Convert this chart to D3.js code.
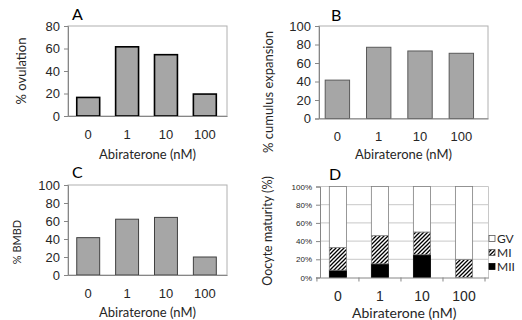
<!DOCTYPE html>
<html>
<head>
<meta charset="utf-8">
<script src="https://cdn.jsdelivr.net/npm/d3@7"></script>
<style>
  html, body { margin: 0; padding: 0; background: #fff; }
  svg { display: block; font-family: Lato, 'Open Sans', sans-serif; }
</style>
</head>
<body>
<div id="chart"></div>
<script>
// ---- data ----
const categories = ['0', '1', '10', '100'];
const ovulation = [16.5, 61.5, 54.5, 19.5];
const cumulus = [41.5, 77, 73, 70.5];
const bmbd = [41.5, 62, 64, 20];
const stages = ['MII', 'MI', 'GV'];
const mii = [8, 15, 25, 0];
const mi = [25, 31, 25, 20];
const gv = [67, 54, 50, 80];
const ticksA = [0, 20, 40, 60, 80];
const ticksBC = [0, 20, 40, 60, 80, 100];
const ticksD = [0, 0.2, 0.4, 0.6, 0.8, 1];
const legendOrder = ['GV', 'MI', 'MII'];

const W = 522, H = 320;
const svg = d3.select('#chart').append('svg').attr('width', W).attr('height', H);

// hatch for MI
svg.append('defs').append('pattern')
  .attr('id', 'hatch').attr('patternUnits', 'userSpaceOnUse')
  .attr('width', 4).attr('height', 4)
  .call(p => {
    p.append('rect').attr('width', 4).attr('height', 4).attr('fill', '#fff');
    p.append('path').attr('d', 'M-1,1 l2,-2 M0,4 l4,-4 M3,5 l2,-2')
      .attr('stroke', '#000').attr('stroke-width', 1.3);
  });

const AXIS = '#868686', BORDER = '#b0b0b0', TEXT = '#262626';

function frame(g, x0, x1, y0, y1) {
  g.append('rect').attr('x', x0).attr('y', y0).attr('width', x1 - x0).attr('height', y1 - y0)
    .attr('fill', 'none').attr('stroke', BORDER).attr('stroke-width', 1);
}

function yAxis(g, y, x0, ticks, fmt, size) {
  const ax = g.append('g').attr('transform', `translate(${x0},0)`)
    .call(d3.axisLeft(y).tickValues(ticks).tickSize(4).tickPadding(4).tickFormat(fmt));
  ax.select('.domain').attr('stroke', AXIS);
  ax.selectAll('.tick line').attr('stroke', AXIS);
  ax.selectAll('.tick text').attr('fill', TEXT).attr('font-size', size);
  return ax;
}

function labels(g, o) {
  g.append('text').attr('x', o.titleX).attr('y', o.titleY).attr('font-size', 16)
    .attr('fill', '#000').text(o.title);
  g.append('text').attr('transform', `translate(${o.yLabelX},${o.yLabelY}) rotate(-90)`)
    .attr('text-anchor', 'middle').attr('font-size', o.yLabelSize).attr('fill', TEXT)
    .text(o.yLabel);
  g.append('text').attr('x', (o.left + o.right) / 2).attr('y', o.xLabelY)
    .attr('text-anchor', 'middle').attr('font-size', o.xLabelSize).attr('fill', TEXT)
    .text('Abiraterone (nM)');
}

function barPanel(o) {
  const g = svg.append('g');
  const x = d3.scaleBand().domain(categories).range([o.left, o.right])
    .paddingInner(0.41).paddingOuter(0.25).align(o.align);
  const y = d3.scaleLinear().domain([0, o.max]).range([o.bottom, o.top]);
  frame(g, o.left, o.right, o.top, o.bottom);
  g.selectAll('rect.bar').data(o.values).join('rect').attr('class', 'bar')
    .attr('x', (d, i) => x(categories[i])).attr('width', x.bandwidth())
    .attr('y', d => y(d)).attr('height', d => o.bottom - y(d))
    .attr('fill', '#a6a6a6').attr('stroke', o.stroke).attr('stroke-width', o.strokeWidth);
  yAxis(g, y, o.left, o.ticks, d3.format('d'), 13);
  const xa = g.append('g').attr('transform', `translate(0,${o.bottom})`)
    .call(d3.axisBottom(x).tickSize(0).tickPadding(o.xPad));
  xa.select('.domain').attr('stroke', AXIS);
  xa.selectAll('.tick text').attr('fill', TEXT).attr('font-size', 13);
  labels(g, o);
}

barPanel({ values: ovulation, max: 80, ticks: ticksA, left: 68, right: 227, top: 26, bottom: 116,
  align: 0.45, stroke: '#000', strokeWidth: 1.6, xPad: 14,
  title: 'A', titleX: 72, titleY: 20, yLabel: '% ovulation', yLabelX: 26, yLabelY: 71, yLabelSize: 13,
  xLabelY: 159, xLabelSize: 13 });

barPanel({ values: cumulus, max: 100, ticks: ticksBC, left: 319, right: 488, top: 26, bottom: 118.5,
  align: 0.3, stroke: '#595959', strokeWidth: 1, xPad: 13,
  title: 'B', titleX: 331, titleY: 21, yLabel: '% cumulus expansion', yLabelX: 273, yLabelY: 92, yLabelSize: 13,
  xLabelY: 159, xLabelSize: 13 });

barPanel({ values: bmbd, max: 100, ticks: ticksBC, left: 68, right: 227, top: 185, bottom: 275,
  align: 0.45, stroke: '#404040', strokeWidth: 1, xPad: 14,
  title: 'C', titleX: 72, titleY: 178, yLabel: '% BMBD', yLabelX: 21, yLabelY: 242, yLabelSize: 11,
  xLabelY: 317, xLabelSize: 13 });

// ---- panel D: stacked percentages ----
(function () {
  const o = { left: 320, right: 488.5, top: 186.5, bottom: 277.5 };
  const g = svg.append('g');
  const x = d3.scaleBand().domain(categories).range([o.left, o.right])
    .paddingInner(0.59).paddingOuter(0.3).align(0.37);
  const y = d3.scaleLinear().domain([0, 1]).range([o.bottom, o.top]);
  const rows = categories.map((c, i) => ({ cat: c, MII: mii[i], MI: mi[i], GV: gv[i] }));
  const series = d3.stack().keys(stages).offset(d3.stackOffsetExpand)(rows);
  const fills = { MII: '#000', MI: 'url(#hatch)', GV: '#fff' };

  // gridlines
  g.selectAll('line.grid').data(ticksD.slice(1)).join('line').attr('class', 'grid')
    .attr('x1', o.left).attr('x2', o.right).attr('y1', d => y(d)).attr('y2', d => y(d))
    .attr('stroke', '#c8c8c8');
  g.append('line').attr('x1', o.right).attr('x2', o.right).attr('y1', o.top).attr('y2', o.bottom)
    .attr('stroke', '#c8c8c8');

  series.forEach(s => {
    g.append('g').selectAll('rect').data(s.filter(d => d[1] - d[0] > 0)).join('rect')
      .attr('x', d => x(d.data.cat)).attr('width', x.bandwidth())
      .attr('y', d => y(d[1])).attr('height', d => y(d[0]) - y(d[1]))
      .attr('fill', fills[s.key]).attr('stroke', s.key === 'MII' ? '#000' : '#7f7f7f')
      .attr('stroke-width', 0.8);
  });

  yAxis(g, y, o.left, ticksD, d3.format('.0%'), 8);

  const xa = g.append('g').attr('transform', `translate(0,${o.bottom})`)
    .call(d3.axisBottom(x).tickSize(0).tickPadding(14));
  xa.select('.domain').attr('stroke', AXIS);
  xa.selectAll('.tick text').attr('fill', TEXT).attr('font-size', 14);
  // category separator ticks
  const half = x.step() * x.paddingInner() / 2;
  const seps = categories.map(c => x(c) - half).concat([x(categories[3]) + x.bandwidth() + half]);
  g.selectAll('line.sep').data(seps).join('line').attr('class', 'sep')
    .attr('x1', d => d).attr('x2', d => d).attr('y1', o.bottom).attr('y2', o.bottom + 4)
    .attr('stroke', AXIS);

  labels(g, Object.assign(o, { title: 'D', titleX: 329, titleY: 180,
    yLabel: 'Oocyte maturity (%)', yLabelX: 272, yLabelY: 231, yLabelSize: 12.5,
    xLabelY: 318, xLabelSize: 14 }));

  // legend
  const lg = g.append('g').attr('transform', 'translate(489,0)');
  const ly = { GV: 239, MI: 253, MII: 267 };
  legendOrder.forEach(k => {
    lg.append('rect').attr('x', 0).attr('y', ly[k] - 3.5).attr('width', 6).attr('height', 6)
      .attr('fill', fills[k]).attr('stroke', k === 'MII' ? '#000' : '#595959').attr('stroke-width', 0.8);
    lg.append('text').attr('x', 8).attr('y', ly[k] + 4).attr('font-size', 12).attr('fill', TEXT).text(k);
  });
})();
</script>
</body>
</html>
